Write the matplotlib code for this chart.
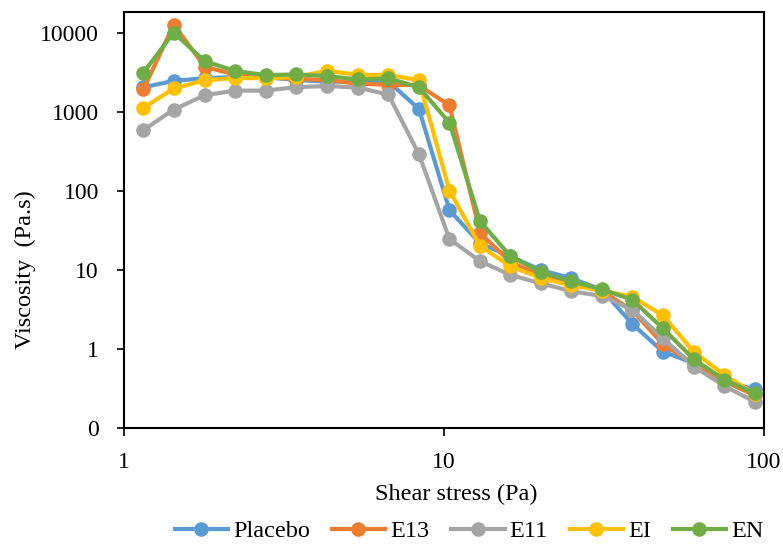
import matplotlib
matplotlib.use('Agg')
import matplotlib.pyplot as plt
from matplotlib.ticker import FixedLocator, NullLocator

plt.rcParams['font.family'] = ['Liberation Serif', 'DejaVu Serif']

# shear stress steps (Pa)
stress = [1.15, 1.43, 1.79, 2.23, 2.77, 3.45, 4.32, 5.38, 6.7, 8.35,
          10.4, 12.96, 16.1, 20.1, 25.0, 31.2, 38.8, 48.3, 60.4, 75.2, 93.5]

placebo = [2070, 2500, 2700, 2800, 2800, 2550, 2450, 2420, 2450, 1100,
           57.5, 21.8, 15.0, 10.0, 7.9, 5.6, 2.07, 0.93, 0.66, 0.39, 0.31]
e13 = [1950, 12900, 3750, 3000, 2750, 2650, 2550, 2300, 2230, 2200,
       1220, 29.7, 12.7, 8.5, 6.7, 5.4, 3.1, 1.15, 0.65, 0.39, 0.26]
e11 = [595, 1080, 1650, 1880, 1880, 2080, 2150, 2050, 1680, 294,
       24.7, 13.0, 8.7, 6.8, 5.4, 4.7, 3.15, 1.38, 0.6, 0.34, 0.215]
ei = [1135, 2000, 2540, 2720, 2700, 2800, 3350, 2980, 2980, 2540,
      102, 20.3, 11.2, 7.9, 6.4, 5.5, 4.6, 2.67, 0.92, 0.47, 0.27]
en = [3180, 10200, 4420, 3330, 2960, 3010, 2880, 2600, 2690, 2070,
      737, 41.7, 15.1, 9.4, 7.2, 5.7, 4.2, 1.83, 0.74, 0.41, 0.275]

series = [('Placebo', placebo, '#5B9BD5'),
          ('E13', e13, '#ED7D31'),
          ('E11', e11, '#A5A5A5'),
          ('EI', ei, '#FFC000'),
          ('EN', en, '#70AD47')]

fig = plt.figure(figsize=(7.83, 5.46), dpi=100)
ax = fig.add_axes([124/783, 118/546, 640/783, 416/546])

for name, vals, col in series:
    ax.plot(stress, vals, color=col, lw=3.0, marker='o', ms=10.5,
            markeredgewidth=0, label=name)

ax.set_xscale('log')
ax.set_yscale('log')
ax.set_xlim(1, 100)
ax.set_ylim(0.1, 10**4.27)

ax.xaxis.set_major_locator(FixedLocator([1, 10, 100]))
ax.xaxis.set_minor_locator(NullLocator())
ax.set_xticklabels(['1', '10', '100'])
ax.yaxis.set_major_locator(FixedLocator([0.1, 1, 10, 100, 1000, 10000]))
ax.yaxis.set_minor_locator(NullLocator())
ax.set_yticklabels(['0', '1', '10', '100', '1000', '10000'])

ax.tick_params(axis='y', direction='out', length=5, width=1.2, pad=13,
               labelsize=17)
ax.tick_params(axis='x', direction='out', length=6, width=1.2, pad=11,
               labelsize=17)
for sp in ax.spines.values():
    sp.set_color('black')
    sp.set_linewidth(1.5)

fig.text(25/783, 1 - 270/546, 'Viscosity  (Pa.s)', rotation=90,
         ha='center', va='center', fontsize=17.5)
fig.text(456/783, 1 - 494/546, 'Shear stress (Pa)', ha='center',
         va='center', fontsize=17.5)

fig.legend(loc='center', bbox_to_anchor=(469/783, 1 - 531/546), ncol=5,
           frameon=False, fontsize=17.5, handlelength=2.2, handletextpad=0.2,
           columnspacing=0.9, borderpad=0)

fig.savefig('out.png', dpi=100)
